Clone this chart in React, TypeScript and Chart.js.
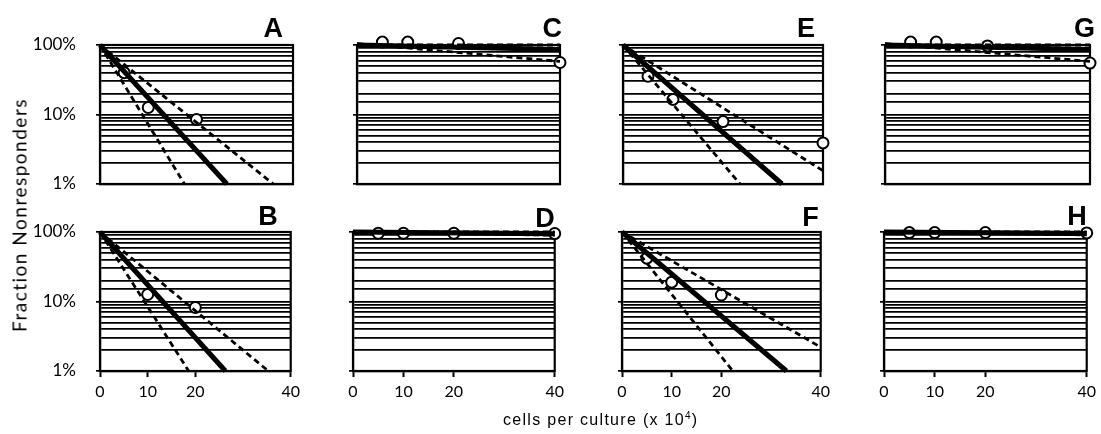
import React, { useEffect, useRef } from 'react';
import { Chart, registerables } from 'chart.js';

Chart.register(...registerables);
Chart.defaults.font.family = 'Lato';

// ---------- data ----------
const doses = [5, 10, 20, 40];
const xTickValues = [0, 10, 20, 40];
const yTickDecades = [0.01, 0.1, 1];

const fracA = [0.40, 0.126, 0.085, null];
const fracB = [null, 0.126, 0.082, null];
const fracC = [1.1, 1.1, 1.05, 0.56];
const fracD = [0.96, 0.96, 0.96, 0.95];
const fracE = [0.355, 0.165, 0.079, 0.039];
const fracF = [0.42, 0.19, 0.124, null];
const fracG = [1.1, 1.1, 0.97, 0.55];
const fracH = [0.98, 0.98, 0.98, 0.97];

// fitted line and its confidence limits (start, end)
const fitA = [{ x: 0, y: 1 }, { x: 26.3, y: 0.01 }];
const lowA = [{ x: 0, y: 1 }, { x: 17.5, y: 0.01 }];
const highA = [{ x: 0, y: 1 }, { x: 35.9, y: 0.01 }];

const fitB = [{ x: 0, y: 1 }, { x: 26.3, y: 0.01 }];
const lowB = [{ x: 0, y: 1 }, { x: 18.6, y: 0.01 }];
const highB = [{ x: 0, y: 1 }, { x: 35.3, y: 0.01 }];

const fitC = [{ x: 0, y: 1 }, { x: 40, y: 0.86 }];
const lowC = [{ x: 0, y: 1.05 }, { x: 40, y: 0.58 }];
const highC = [{ x: 0, y: 1 }, { x: 40, y: 1 }];

const fitD = [{ x: 0, y: 1 }, { x: 40, y: 0.94 }];
const lowD = [{ x: 0, y: 1 }, { x: 40, y: 0.9 }];
const highD = [{ x: 0, y: 1 }, { x: 40, y: 1 }];

const fitE = [{ x: 0, y: 1 }, { x: 31.8, y: 0.01 }];
const lowE = [{ x: 0, y: 1 }, { x: 23.4, y: 0.01 }];
const highE = [{ x: 0, y: 1 }, { x: 40, y: 0.0155 }];

const fitF = [{ x: 0, y: 1 }, { x: 33.1, y: 0.01 }];
const lowF = [{ x: 0, y: 1 }, { x: 22.3, y: 0.01 }];
const highF = [{ x: 0, y: 1 }, { x: 40, y: 0.022 }];

const fitG = [{ x: 0, y: 1 }, { x: 40, y: 0.86 }];
const lowG = [{ x: 0, y: 1.05 }, { x: 40, y: 0.58 }];
const highG = [{ x: 0, y: 1 }, { x: 40, y: 1 }];

const fitH = [{ x: 0, y: 1 }, { x: 40, y: 0.95 }];
const lowH = [{ x: 0, y: 1 }, { x: 40, y: 0.91 }];
const highH = [{ x: 0, y: 1 }, { x: 40, y: 1 }];

const panelData = [
  { letter: 'A', frac: fracA, fit: fitA, low: lowA, high: highA },
  { letter: 'C', frac: fracC, fit: fitC, low: lowC, high: highC },
  { letter: 'E', frac: fracE, fit: fitE, low: lowE, high: highE },
  { letter: 'G', frac: fracG, fit: fitG, low: lowG, high: highG },
  { letter: 'B', frac: fracB, fit: fitB, low: lowB, high: highB },
  { letter: 'D', frac: fracD, fit: fitD, low: lowD, high: highD },
  { letter: 'F', frac: fracF, fit: fitF, low: lowF, high: highF },
  { letter: 'H', frac: fracH, fit: fitH, low: lowH, high: highH },
];

// ---------- layout ----------
const layout = [
  { L: 100, R: 293, T: 45, B: 184, dx: -10, dy: -8, left: true, bottom: false },
  { L: 357, R: 560, T: 45, B: 184, dx: 2, dy: -8, left: false, bottom: false },
  { L: 623, R: 823, T: 45, B: 184, dx: -8, dy: -8, left: false, bottom: false },
  { L: 885, R: 1090, T: 45, B: 184, dx: 5, dy: -8, left: false, bottom: false },
  { L: 100, R: 295, T: 232, B: 371, dx: -13, dy: -7, left: true, bottom: true },
  { L: 353, R: 559, T: 232, B: 371, dx: 0, dy: -5, left: false, bottom: true },
  { L: 622, R: 825, T: 232, B: 371, dx: -2, dy: -6, left: false, bottom: true },
  { L: 884, R: 1091, T: 232, B: 371, dx: 0, dy: -7, left: false, bottom: true },
];

const Y_W = 70;
const TOP_PAD = 45;
const RIGHT_PAD = 10;
const X_H = 40;

const isDecade = (v: number) => {
  const r = Math.log10(v);
  return Math.abs(r - Math.round(r)) < 1e-6;
};

const framePlugin = {
  id: 'frame',
  beforeDatasetsDraw(chart: any) {
    const { ctx, chartArea: a } = chart;
    ctx.save();
    ctx.strokeStyle = '#000';
    ctx.lineWidth = 2.2;
    ctx.strokeRect(a.left, a.top, a.right - a.left, a.bottom - a.top);
    ctx.restore();
  },
  afterDraw(chart: any, _args: any, opts: any) {
    const { ctx, chartArea: a } = chart;
    ctx.save();
    ctx.fillStyle = '#000';
    ctx.font = 'bold 27px "Liberation Sans", Arial, sans-serif';
    ctx.textAlign = 'right';
    ctx.textBaseline = 'alphabetic';
    ctx.fillText(opts.letter, a.right + opts.dx, a.top + opts.dy);
    ctx.restore();
  },
};

function Panel({ idx }: { idx: number }) {
  const ref = useRef<HTMLCanvasElement>(null);
  const lay = layout[idx];
  const pd = panelData[idx];
  const W = lay.R - lay.L + Y_W + RIGHT_PAD;
  const H = lay.B - lay.T + TOP_PAD + X_H;
  const x0 = lay.L - Y_W;
  const y0 = lay.T - TOP_PAD;

  useEffect(() => {
    const pts = doses
      .map((d, i) => ({ x: d, y: pd.frac[i] }))
      .filter((p) => p.y !== null);
    const dashed = {
      showLine: true,
      borderColor: '#000',
      borderWidth: 2.8,
      borderDash: [6, 4],
      pointRadius: 0,
      clip: false,
    };
    const chart = new Chart(ref.current as HTMLCanvasElement, {
      type: 'scatter',
      data: {
        datasets: [
          { ...dashed, data: pd.low },
          { ...dashed, data: pd.high },
          {
            data: pd.fit,
            showLine: true,
            borderColor: '#000',
            borderWidth: 5,
            pointRadius: 0,
            clip: false,
          },
          {
            data: pts,
            showLine: false,
            pointRadius: 5.5,
            pointBackgroundColor: '#fff',
            pointBorderColor: '#000',
            pointBorderWidth: 2,
            clip: false,
          },
        ] as any,
      },
      options: {
        responsive: false,
        animation: false,
        devicePixelRatio: 1,
        events: [],
        layout: { padding: { top: TOP_PAD, right: RIGHT_PAD, left: 0, bottom: 0 } },
        plugins: {
          legend: { display: false },
          tooltip: { enabled: false },
          frame: { letter: pd.letter, dx: lay.dx, dy: lay.dy },
        } as any,
        scales: {
          x: {
            type: 'linear',
            min: 0,
            max: 40,
            afterBuildTicks: (s: any) => {
              s.ticks = xTickValues.map((v) => ({ value: v }));
            },
            afterFit: (s: any) => {
              s.height = X_H;
            },
            grid: {
              drawOnChartArea: false,
              drawTicks: lay.bottom,
              tickLength: 6,
              tickColor: '#000',
              tickWidth: 2,
            },
            border: { display: true, color: '#000', width: 2.2 },
            ticks: {
              display: lay.bottom,
              padding: 5,
              color: '#000',
              font: { family: 'Lato', size: 16 },
            },
          },
          y: {
            type: 'logarithmic',
            min: 0.01,
            max: 1,
            afterFit: (s: any) => {
              s.width = Y_W;
            },
            grid: {
              color: '#000',
              lineWidth: 1.7,
              tickLength: 4,
              tickWidth: 1.7,
              tickColor: (ctx: any) =>
                ctx.tick && isDecade(ctx.tick.value) ? '#000' : 'rgba(0,0,0,0)',
            },
            border: { display: true, color: '#000', width: 2.2 },
            ticks: {
              display: lay.left,
              autoSkip: false,
              padding: 20,
              color: '#000',
              font: { family: 'Lato', size: 17 },
              callback: (v: any) =>
                yTickDecades.some((d) => Math.abs(d - v) < 1e-9)
                  ? `${Math.round(v * 100)}%`
                  : '',
            },
          },
        },
      },
      plugins: [framePlugin],
    });
    return () => chart.destroy();
  }, []);

  return (
    <canvas
      ref={ref}
      width={W}
      height={H}
      style={{ position: 'absolute', left: x0, top: y0, width: W, height: H }}
    />
  );
}

export default function App() {
  return (
    <div
      style={{
        position: 'fixed',
        left: 0,
        top: 0,
        width: 1101,
        height: 434,
        overflow: 'hidden',
        background: '#fff',
      }}
    >
      {layout.map((_, i) => (
        <Panel key={i} idx={i} />
      ))}
      <div
        style={{
          position: 'absolute',
          left: 19,
          top: 215,
          transform: 'translate(-50%, -50%) rotate(-90deg)',
          whiteSpace: 'nowrap',
          fontFamily: 'Lato, sans-serif',
          fontSize: 19,
          letterSpacing: 1.5,
          color: '#000',
        }}
      >
        Fraction Nonresponders
      </div>
      <div
        style={{
          position: 'absolute',
          left: 503,
          top: 410,
          whiteSpace: 'nowrap',
          fontFamily: '"Liberation Sans", Arial, sans-serif',
          fontSize: 16,
          letterSpacing: 1.3,
          color: '#000',
        }}
      >
        cells per culture (x 10<sup style={{ fontSize: 10 }}>4</sup>)
      </div>
    </div>
  );
}
